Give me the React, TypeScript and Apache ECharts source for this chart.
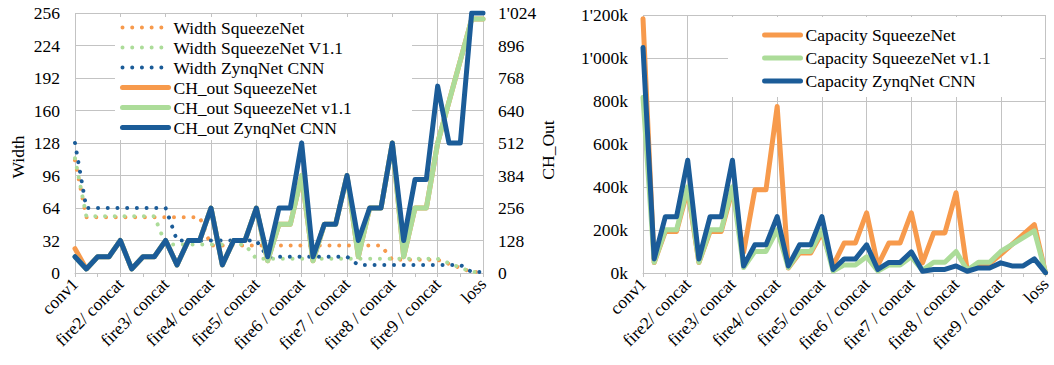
import React, { useEffect, useRef } from 'react';
import * as echarts from 'echarts';

// Layer names along the network (one point per layer)
const categories = [
  'conv1',
  'fire2/squeeze1x1', 'fire2/expand1x1', 'fire2/expand3x3', 'fire2/ concat',
  'fire3/squeeze1x1', 'fire3/expand1x1', 'fire3/expand3x3', 'fire3/ concat',
  'fire4/squeeze1x1', 'fire4/expand1x1', 'fire4/expand3x3', 'fire4/ concat',
  'fire5/squeeze1x1', 'fire5/expand1x1', 'fire5/expand3x3', 'fire5/ concat',
  'fire6/squeeze1x1', 'fire6/expand1x1', 'fire6/expand3x3', 'fire6 / concat',
  'fire7/squeeze1x1', 'fire7/expand1x1', 'fire7/expand3x3', 'fire7 / concat',
  'fire8/squeeze1x1', 'fire8/expand1x1', 'fire8/expand3x3', 'fire8 / concat',
  'fire9/squeeze1x1', 'fire9/expand1x1', 'fire9/expand3x3', 'fire9 / concat',
  'conv10/split1', 'conv10/split2', 'pool10', 'loss',
];

// Output width per layer
const widthSqueezeNet = [111,
  55, 55, 55, 55,
  55, 55, 55, 55,
  55, 55, 55, 27,
  27, 27, 27, 27,
  27, 27, 27, 27,
  27, 27, 27, 27,
  27, 27, 27, 13,
  13, 13, 13, 13,
  null, null, 1, 1];
const widthSqueezeNet11 = [113,
  56, 56, 56, 56,
  56, 56, 56, 28,
  28, 28, 28, 28,
  28, 28, 28, 14,
  14, 14, 14, 14,
  14, 14, 14, 14,
  14, 14, 14, 14,
  14, 14, 14, 14,
  null, null, 1, 1];
const widthZynqNet = [128,
  64, 64, 64, 64,
  64, 64, 64, 64,
  32, 32, 32, 32,
  32, 32, 32, 32,
  16, 16, 16, 16,
  16, 16, 16, 16,
  8, 8, 8, 8,
  8, 8, 8, 8,
  8, 8, 1, 1];

// Output channels per layer
const chSqueezeNet = [96,
  16, 64, 64, 128,
  16, 64, 64, 128,
  32, 128, 128, 256,
  32, 128, 128, 256,
  48, 192, 192, 384,
  48, 192, 192, 384,
  64, 256, 256, 512,
  64, 256, 256, 512,
  null, null, 1000, 1000];
const chSqueezeNet11 = [64,
  16, 64, 64, 128,
  16, 64, 64, 128,
  32, 128, 128, 256,
  32, 128, 128, 256,
  48, 192, 192, 384,
  48, 192, 192, 384,
  64, 256, 256, 512,
  64, 256, 256, 512,
  null, null, 1000, 1000];
const chZynqNet = [64,
  16, 64, 64, 128,
  16, 64, 64, 128,
  32, 128, 128, 256,
  32, 128, 128, 256,
  64, 256, 256, 512,
  64, 192, 192, 384,
  128, 256, 256, 512,
  128, 368, 368, 736,
  512, 512, 1024, 1024];

// Capacity per layer
const capSqueezeNet = [1182816,
  48400, 193600, 193600, 387200,
  48400, 193600, 193600, 387200,
  96800, 387200, 387200, 774400,
  23328, 93312, 93312, 186624,
  34992, 139968, 139968, 279936,
  34992, 139968, 139968, 279936,
  46656, 186624, 186624, 373248,
  10816, 43264, 43264, 86528,
  null, null, 225000, 1000];
const capSqueezeNet11 = [817216,
  50176, 200704, 200704, 401408,
  50176, 200704, 200704, 401408,
  25088, 100352, 100352, 200704,
  25088, 100352, 100352, 200704,
  9408, 37632, 37632, 75264,
  9408, 37632, 37632, 75264,
  12544, 50176, 50176, 100352,
  12544, 50176, 50176, 100352,
  null, null, 196000, 1000];
const capZynqNet = [1048576,
  65536, 262144, 262144, 524288,
  65536, 262144, 262144, 524288,
  32768, 131072, 131072, 262144,
  32768, 131072, 131072, 262144,
  16384, 65536, 65536, 131072,
  16384, 49152, 49152, 98304,
  8192, 16384, 16384, 32768,
  8192, 23552, 23552, 47104,
  32768, 32768, 65536, 1024];

const FONT = '"Liberation Serif", serif';
const FS = 17.5;
const GRID = '#c3c3c3';
const ORANGE = '#f79a4c';
const GREEN = '#acdc99';
const BLUE = '#1b5c98';

const dotted = (color: string) => ({
  color, width: 4, type: [0.01, 9.7], cap: 'round' as const,
});
const solid = (color: string) => ({
  color, width: 5, cap: 'round' as const, join: 'round' as const,
});

const thousands = (n: number) => String(n).replace(/\B(?=(\d{3})+(?!\d))/g, "'");

const xAxisFor = (gridIndex: number) => ({
  type: 'category' as const,
  gridIndex,
  data: categories,
  boundaryGap: false,
  axisLine: { lineStyle: { color: GRID, width: 1 } },
  axisTick: { interval: 1, length: 4, lineStyle: { color: GRID } },
  splitLine: { show: true, interval: 3, lineStyle: { color: GRID, width: 1 } },
  axisLabel: {
    interval: 3, rotate: 45, margin: 8,
    fontFamily: FONT, fontSize: FS, color: '#000',
  },
});

const labelStyle = { fontFamily: FONT, fontSize: FS, color: '#000' };

export default function App() {
  const ref = useRef<HTMLDivElement>(null);

  useEffect(() => {
    if (!ref.current) return;
    const chart = echarts.init(ref.current, null, { renderer: 'svg' });

    const line = (name: string, data: (number | null)[], xi: number, yi: number, style: any, z: number) => ({
      name, type: 'line' as const, data,
      xAxisIndex: xi, yAxisIndex: yi,
      symbol: 'none', connectNulls: true,
      lineStyle: style, itemStyle: { color: style.color },
      z,
    });

    chart.setOption({
      animation: false,
      backgroundColor: '#fff',
      grid: [
        { left: 75, top: 13, width: 408, height: 260 },
        { left: 643, top: 15, width: 408, height: 258 },
      ],
      xAxis: [xAxisFor(0), xAxisFor(1)],
      yAxis: [
        {
          type: 'value', gridIndex: 0, min: 0, max: 256, interval: 32,
          axisLine: { show: false }, axisTick: { show: false },
          splitLine: { lineStyle: { color: GRID, width: 1 } },
          axisLabel: { ...labelStyle, margin: 15 },
        },
        {
          type: 'value', gridIndex: 0, position: 'right', min: 0, max: 1024, interval: 128,
          axisLine: { show: false }, axisTick: { show: false }, splitLine: { show: false },
          axisLabel: { ...labelStyle, margin: 15, formatter: (v: number) => thousands(v) },
        },
        {
          type: 'value', gridIndex: 1, min: 0, max: 1200000, interval: 200000,
          axisLine: { show: false }, axisTick: { show: false },
          splitLine: { lineStyle: { color: GRID, width: 1 } },
          axisLabel: { ...labelStyle, margin: 15, formatter: (v: number) => thousands(v / 1000) + 'k' },
        },
      ],
      legend: [
        {
          orient: 'vertical', left: 120, top: 17.5, padding: 0,
          itemWidth: 46, itemHeight: 14, itemGap: 0,
          textStyle: { ...labelStyle, lineHeight: 20 },
          itemStyle: { opacity: 0 },
          lineStyle: { width: 'inherit' },
          data: [
            'Width SqueezeNet', 'Width SqueezeNet V1.1', 'Width ZynqNet CNN',
            'CH_out SqueezeNet', 'CH_out SqueezeNet v1.1', 'CH_out ZynqNet CNN',
          ],
        },
        {
          orient: 'vertical', left: 762, top: 25, padding: 0,
          itemWidth: 36, itemHeight: 14, itemGap: 3,
          textStyle: { ...labelStyle, lineHeight: 20 },
          itemStyle: { opacity: 0 },
          lineStyle: { width: 'inherit' },
          data: ['Capacity SqueezeNet', 'Capacity SqueezeNet v1.1', 'Capacity ZynqNet CNN'],
        },
      ],
      graphic: [
        { type: 'rect', z: 1, silent: true, shape: { x: 115, y: 17, width: 297, height: 123 }, style: { fill: '#fff' } },
        { type: 'rect', z: 1, silent: true, shape: { x: 728, y: 17, width: 312, height: 80 }, style: { fill: '#fff' } },
        {
          type: 'text', z: 5, x: 18, y: 157, rotation: Math.PI / 2,
          style: { text: 'Width', font: `${FS}px ${FONT}`, fill: '#000', textAlign: 'center', textVerticalAlign: 'middle' },
        },
        {
          type: 'text', z: 5, x: 548, y: 150, rotation: Math.PI / 2,
          style: { text: 'CH_Out', font: `${FS}px ${FONT}`, fill: '#000', textAlign: 'center', textVerticalAlign: 'middle' },
        },
      ],
      series: [
        line('Width SqueezeNet', widthSqueezeNet, 0, 0, dotted(ORANGE), 3),
        line('Width SqueezeNet V1.1', widthSqueezeNet11, 0, 0, dotted(GREEN), 4),
        line('Width ZynqNet CNN', widthZynqNet, 0, 0, dotted(BLUE), 5),
        line('CH_out SqueezeNet', chSqueezeNet, 0, 1, solid(ORANGE), 6),
        line('CH_out SqueezeNet v1.1', chSqueezeNet11, 0, 1, solid(GREEN), 7),
        line('CH_out ZynqNet CNN', chZynqNet, 0, 1, solid(BLUE), 8),
        line('Capacity SqueezeNet', capSqueezeNet, 1, 2, solid(ORANGE), 6),
        line('Capacity SqueezeNet v1.1', capSqueezeNet11, 1, 2, solid(GREEN), 7),
        line('Capacity ZynqNet CNN', capZynqNet, 1, 2, solid(BLUE), 8),
      ],
    });

    return () => chart.dispose();
  }, []);

  return (
    <div
      ref={ref}
      style={{ position: 'absolute', left: 0, top: 0, width: 1054, height: 365, background: '#fff' }}
    />
  );
}
